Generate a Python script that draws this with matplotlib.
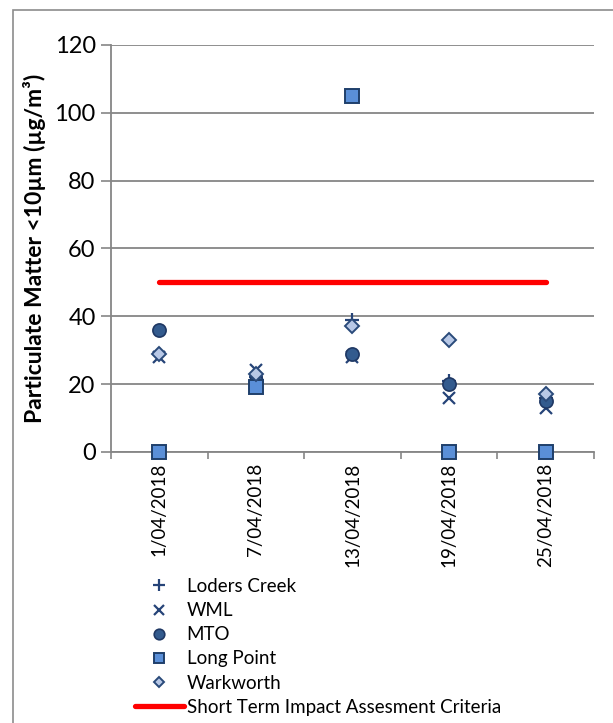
import matplotlib
matplotlib.use("Agg")
import matplotlib.pyplot as plt
from matplotlib.patches import Rectangle

plt.rcParams['font.family'] = ['Lato', 'DejaVu Sans']

dates = ["1/04/2018", "7/04/2018", "13/04/2018", "19/04/2018", "25/04/2018"]
loders_creek = [29, 22, 39, 21, 16]
wml = [28, 24, 28, 16, 13]
mto = [36, 21, 29, 20, 15]
long_point = [0, 19, 105, 0, 0]
warkworth = [29, 23, 37, 33, 17]
criteria = [50, 50, 50, 50, 50]

x = list(range(len(dates)))

fig = plt.figure(figsize=(6.13, 7.23), dpi=100)
ax = fig.add_axes([0.181, 0.375, 0.788, 0.563])

ax.plot(x, loders_creek, linestyle='none', marker='+', ms=10, mew=1.6,
        color='#264478', label='Loders Creek', zorder=3)
ax.plot(x, wml, linestyle='none', marker='x', ms=9, mew=1.6,
        color='#264478', label='WML', zorder=3)
ax.plot(x, mto, linestyle='none', marker='o', ms=9.5, mfc='#335B8E',
        mec='#1F3864', mew=1.2, label='MTO', zorder=3)
ax.plot(x, long_point, linestyle='none', marker='s', ms=9.5, mfc='#5A8FD8',
        mec='#1F3F6B', mew=1.4, label='Long Point', zorder=3, clip_on=False)
ax.plot(x, warkworth, linestyle='none', marker='D', ms=7, mfc='#B8C8E6',
        mec='#2A4A7A', mew=1.4, label='Warkworth', zorder=3)
ax.plot(x, criteria, color='#FF0000', lw=3.8, solid_capstyle='round',
        label='Short Term Impact Assesment Criteria', zorder=2)

ax.set_xlim(-0.5, len(dates) - 0.5)
ax.set_ylim(0, 120)
ax.set_yticks(range(0, 121, 20))
ax.tick_params(axis='y', labelsize=17, length=7, width=1.2, color='#868686', pad=4)
ax.set_xticks(x)
ax.set_xticklabels(dates, rotation=90, fontsize=13.5)
ax.tick_params(axis='x', which='major', length=0, pad=8)
ax.set_xticks([i - 0.5 for i in range(len(dates) + 1)], minor=True)
ax.tick_params(axis='x', which='minor', length=5, width=1.2, color='#868686')

ax.grid(axis='y', color='#868686', lw=1.3)
ax.set_axisbelow(True)
for s in ['top', 'right']:
    ax.spines[s].set_visible(False)
for s in ['left', 'bottom']:
    ax.spines[s].set_color('#868686')
    ax.spines[s].set_linewidth(1.3)

ax.set_ylabel('Particulate Matter <10µm (µg/m³)', fontsize=16.5,
              fontweight='bold', labelpad=6)

fig.legend(loc='upper left', bbox_to_anchor=(0.205, 0.2135), frameon=False,
           fontsize=13.5, handlelength=2.6, handletextpad=0.15, labelspacing=0.38,
           borderpad=0, markerscale=0.8)

fig.patches.append(Rectangle((0.021, -0.01), 1.0, 0.996, transform=fig.transFigure,
                             fill=False, ec='#8C8C8C', lw=1.2))

fig.savefig('out.png', dpi=100)
